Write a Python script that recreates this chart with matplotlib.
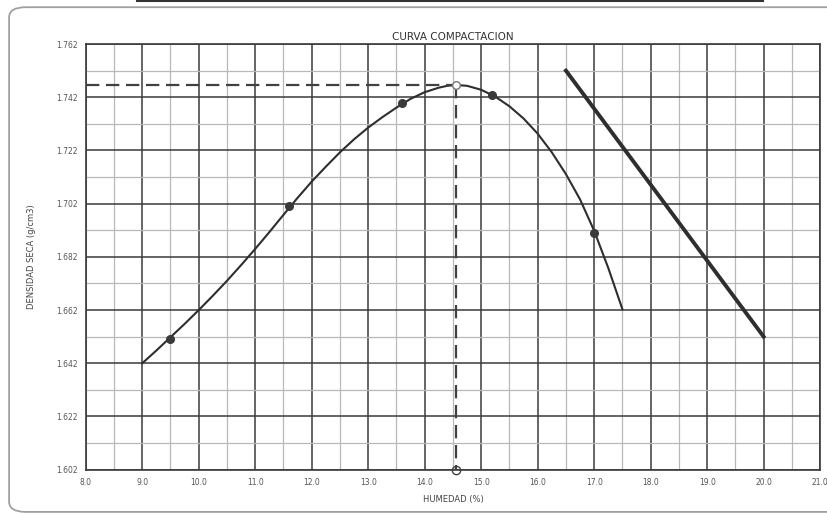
import matplotlib.pyplot as plt
from matplotlib.patches import FancyBboxPatch
from matplotlib.lines import Line2D

# Ensayo Proctor: puntos medidos
humedad = [9.5, 11.6, 13.6, 15.2, 17.0]
densidad = [1.651, 1.701, 1.740, 1.743, 1.691]

# Curva de compactacion trazada (humedad, densidad seca)
curva_x = [9.0, 9.25, 9.5, 9.75, 10.0, 10.25, 10.5, 10.75, 11.0, 11.25, 11.5,
           11.75, 12.0, 12.25, 12.5, 12.75, 13.0, 13.25, 13.5, 13.75, 14.0,
           14.25, 14.4, 14.55, 14.75, 15.0, 15.25, 15.5, 15.75, 16.0, 16.25,
           16.5, 16.75, 17.0, 17.25, 17.5]
curva_y = [1.6420, 1.6468, 1.6518, 1.6568, 1.6620, 1.6674, 1.6730, 1.6789,
           1.6850, 1.6913, 1.6978, 1.7042, 1.7103, 1.7159, 1.7213, 1.7262,
           1.7306, 1.7345, 1.7381, 1.7414, 1.7439, 1.7456, 1.7463, 1.7466,
           1.7463, 1.7448, 1.7422, 1.7386, 1.7340, 1.7283, 1.7213, 1.7131,
           1.7036, 1.6918, 1.6778, 1.6623]

# Maximo: humedad optima y densidad seca maxima
hum_optima = 14.55
dens_maxima = 1.7466

# Linea de saturacion
sat_x = [16.5, 20.0]
sat_y = [1.752, 1.652]

x_ticks = [8.0, 9.0, 10.0, 11.0, 12.0, 13.0, 14.0, 15.0, 16.0, 17.0, 18.0, 19.0, 20.0, 21.0]
y_ticks = [1.602, 1.622, 1.642, 1.662, 1.682, 1.702, 1.722, 1.742, 1.762]

fig = plt.figure(figsize=(8.27, 5.15), dpi=100)
ax = fig.add_axes([0.1037, 0.088, 0.888, 0.8265])

# marco redondeado alrededor del grafico
marco = FancyBboxPatch((0.011, 0.006), 1.2, 0.98, boxstyle="round,pad=0,rounding_size=0.02",
                       transform=fig.transFigure, fill=False, edgecolor='#a0a0a0',
                       linewidth=1.3, zorder=0)
fig.patches.append(marco)
fig.add_artist(Line2D([0.166, 0.923], [0.999, 0.999], transform=fig.transFigure,
                      color='#333333', linewidth=1.5))

ax.set_xlim(8.0, 21.0)
ax.set_ylim(1.602, 1.762)
ax.set_xticks(x_ticks)
ax.set_xticklabels([f'{v:.1f}' for v in x_ticks])
ax.set_yticks(y_ticks)
ax.set_yticklabels([f'{v:.3f}' for v in y_ticks])
ax.set_xticks([v + 0.5 for v in x_ticks[:-1]], minor=True)
ax.set_yticks([v + 0.01 for v in y_ticks[:-1]], minor=True)
ax.tick_params(which='both', length=0, labelsize=5.5, labelcolor='#555555', pad=6)

ax.grid(which='major', color='#3a3a3a', linewidth=1.1)
ax.grid(which='minor', color='#b8b8b8', linewidth=0.9)
ax.set_axisbelow(True)
for s in ax.spines.values():
    s.set_color('#3a3a3a')
    s.set_linewidth(1.2)

# curva, puntos y linea de saturacion
ax.plot(curva_x, curva_y, color='#2e2e2e', linewidth=1.5, zorder=3)
ax.plot(humedad, densidad, 'o', color='#3a3a3a', markersize=5.5, zorder=4)
ax.plot(sat_x, sat_y, color='#2e2e2e', linewidth=2.8, zorder=3)

# lineas de referencia al maximo
ax.plot([8.0, hum_optima], [dens_maxima, dens_maxima], color='#404040',
        linewidth=1.6, dashes=(6, 3), zorder=3)
ax.plot([hum_optima, hum_optima], [dens_maxima, 1.602], color='#404040',
        linewidth=1.6, dashes=(6, 3), zorder=3)
ax.plot([hum_optima], [dens_maxima], 'o', markerfacecolor='white',
        markeredgecolor='#777777', markersize=5.5, zorder=5, clip_on=False)
ax.plot([hum_optima], [1.602], 'o', markerfacecolor='none',
        markeredgecolor='#404040', markersize=6, zorder=5, clip_on=False)

ax.set_title('CURVA COMPACTACION', fontsize=7.5, color='#333333', pad=3)
ax.set_xlabel('HUMEDAD (%)', fontsize=6, color='#444444', labelpad=6)
ax.set_ylabel('DENSIDAD SECA (g/cm3)', fontsize=6, color='#444444', labelpad=14)

fig.savefig('out.png', dpi=100)
